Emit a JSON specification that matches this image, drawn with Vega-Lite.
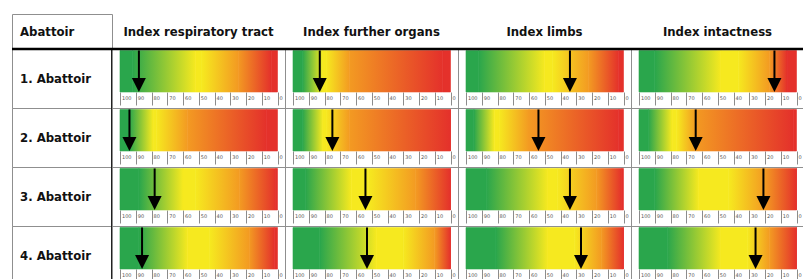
{
  "$schema": "https://vega.github.io/schema/vega-lite/v6.json",
  "padding": {"left": 10, "top": 13, "right": 0, "bottom": 0},
  "background": "white",
  "datasets": {
    "cells": [
      {"abattoir": "1. Abattoir", "index": "Index respiratory tract", "value": 88, "g": 92, "y1": 52, "y2": 48, "o": 25, "r": 4},
      {"abattoir": "1. Abattoir", "index": "Index further organs", "value": 83, "g": 94, "y1": 81, "y2": 79, "o": 64, "r": 5},
      {"abattoir": "1. Abattoir", "index": "Index limbs", "value": 34, "g": 92, "y1": 50, "y2": 45, "o": 22, "r": 3},
      {"abattoir": "1. Abattoir", "index": "Index intactness", "value": 14, "g": 90, "y1": 48, "y2": 37, "o": 17, "r": 6},
      {"abattoir": "2. Abattoir", "index": "Index respiratory tract", "value": 94, "g": 94, "y1": 79, "y2": 77, "o": 57, "r": 7},
      {"abattoir": "2. Abattoir", "index": "Index further organs", "value": 75, "g": 94, "y1": 81, "y2": 79, "o": 64, "r": 0},
      {"abattoir": "2. Abattoir", "index": "Index limbs", "value": 54, "g": 95, "y1": 82, "y2": 79, "o": 60, "r": 3},
      {"abattoir": "2. Abattoir", "index": "Index intactness", "value": 64, "g": 94, "y1": 79, "y2": 76, "o": 64, "r": 2},
      {"abattoir": "3. Abattoir", "index": "Index respiratory tract", "value": 78, "g": 88, "y1": 60, "y2": 52, "o": 24, "r": 1},
      {"abattoir": "3. Abattoir", "index": "Index further organs", "value": 54, "g": 92, "y1": 63, "y2": 52, "o": 22, "r": 0},
      {"abattoir": "3. Abattoir", "index": "Index limbs", "value": 34, "g": 87, "y1": 48, "y2": 42, "o": 17, "r": 1},
      {"abattoir": "3. Abattoir", "index": "Index intactness", "value": 21, "g": 90, "y1": 62, "y2": 43, "o": 20, "r": 0},
      {"abattoir": "4. Abattoir", "index": "Index respiratory tract", "value": 86, "g": 88, "y1": 57, "y2": 43, "o": 18, "r": 2},
      {"abattoir": "4. Abattoir", "index": "Index further organs", "value": 53, "g": 83, "y1": 47, "y2": 30, "o": 10, "r": 0},
      {"abattoir": "4. Abattoir", "index": "Index limbs", "value": 27, "g": 81, "y1": 48, "y2": 31, "o": 14, "r": 0},
      {"abattoir": "4. Abattoir", "index": "Index intactness", "value": 26, "g": 82, "y1": 48, "y2": 31, "o": 17, "r": 0}
    ]
  },
  "config": {
    "view": {"stroke": "#8f8f8f", "strokeWidth": 1},
    "axis": {"labelOverlap": false},
    "text": {"font": "'DejaVu Sans Condensed', 'Liberation Sans', sans-serif", "fontWeight": "bold", "fontSize": 13, "color": "#111111"}
  },
  "columns": 2,
  "spacing": 0,
  "align": "each",
  "bounds": "flush",
  "concat": [
    {
      "data": {"values": [{"h": "Abattoir"}]},
      "width": 100,
      "height": 35,
      "mark": {"type": "text", "align": "left", "dx": 8},
      "encoding": {
        "x": {"datum": 1, "type": "quantitative", "scale": {"domain": [1, 2], "zero": false, "nice": false}, "axis": null},
        "text": {"field": "h", "type": "nominal"}
      }
    },
    {
      "data": {"name": "cells"},
      "transform": [{"aggregate": [{"op": "count", "as": "n"}], "groupby": ["index"]}],
      "facet": {
        "column": {"field": "index", "type": "nominal", "header": null,
          "sort": ["Index respiratory tract", "Index further organs", "Index limbs", "Index intactness"]}
      },
      "spacing": 0,
      "bounds": "flush",
      "spec": {
        "width": 173,
        "height": 35,
        "mark": {"type": "text"},
        "encoding": {"text": {"field": "index", "type": "nominal"}}
      }
    },
    {
      "data": {"name": "cells"},
      "transform": [{"aggregate": [{"op": "count", "as": "n"}], "groupby": ["abattoir"]}],
      "facet": {"row": {"field": "abattoir", "type": "nominal", "header": null}},
      "spacing": 0,
      "bounds": "flush",
      "spec": {
        "width": 100,
        "height": 59,
        "layer": [
          {
            "mark": {"type": "text", "align": "left", "dx": 8},
            "encoding": {
              "x": {"datum": 1, "type": "quantitative", "scale": {"domain": [1, 2], "zero": false, "nice": false}, "axis": null},
              "text": {"field": "abattoir", "type": "nominal"}
            }
          },
          {
            "mark": {"type": "rule", "strokeWidth": 2, "color": "#222222"},
            "encoding": {"x": {"datum": 2, "type": "quantitative"}}
          },
          {
            "transform": [{"filter": {"field": "abattoir", "equal": "1. Abattoir"}}],
            "mark": {"type": "rule", "strokeWidth": 2.5, "color": "black"},
            "encoding": {"y": {"datum": 2, "type": "quantitative", "scale": {"domain": [1, 2], "zero": false, "nice": false}, "axis": null}}
          }
        ]
      }
    },
    {
      "data": {"name": "cells"},
      "facet": {
        "row": {"field": "abattoir", "type": "nominal", "header": null},
        "column": {"field": "index", "type": "nominal", "header": null,
          "sort": ["Index respiratory tract", "Index further organs", "Index limbs", "Index intactness"]}
      },
      "spacing": 0,
      "bounds": "flush",
      "resolve": {"axis": {"x": "independent"}},
      "spec": {
        "width": 173,
        "height": 59,
        "layer": [
          {
            "mark": {"type": "rect", "strokeWidth": 0.6,
              "fill": {"gradient": "linear", "x1": 0, "y1": 0, "x2": 1, "y2": 0, "stops": [{"offset": 0, "color": "#2aa64c"}, {"offset": 1, "color": "#f6e91f"}]},
              "stroke": {"gradient": "linear", "x1": 0, "y1": 0, "x2": 1, "y2": 0, "stops": [{"offset": 0, "color": "#2aa64c"}, {"offset": 1, "color": "#f6e91f"}]}},
            "encoding": {
              "x": {"field": "g", "type": "quantitative",
                "scale": {"domain": [105.08, -4.76], "nice": false, "zero": false},
                "axis": {
                  "values": [100, 90, 80, 70, 60, 50, 40, 30, 20, 10, 0],
                  "tickCount": 30,
                  "offset": -16, "domain": false, "grid": false, "title": null,
                  "tickSize": 13, "tickColor": "#6f6f6f", "tickWidth": 0.8,
                  "labelAlign": "left", "labelBaseline": "middle", "labelPadding": -8, "labelOffset": 1.5,
                  "labelFontSize": 5, "labelColor": "#555555", "labelFont": "DejaVu Sans",
                  "labelOverlap": false, "labelSeparation": 0, "labelFlush": false, "labelBound": false
                }},
              "x2": {"field": "y1"},
              "y": {"datum": 0, "type": "quantitative", "scale": {"domain": [-0.386, 1.036], "nice": false, "zero": false}, "axis": null},
              "y2": {"datum": 1}
            }
          },
          {
            "mark": {"type": "rect", "fill": "#2aa64c", "stroke": "#2aa64c", "strokeWidth": 0.6},
            "encoding": {"x": {"field": "g", "type": "quantitative"}, "x2": {"datum": 100}, "y": {"datum": 0, "type": "quantitative"}, "y2": {"datum": 1}}
          },
          {
            "mark": {"type": "rect", "fill": "#f6e91f", "stroke": "#f6e91f", "strokeWidth": 0.6},
            "encoding": {"x": {"field": "y1", "type": "quantitative"}, "x2": {"field": "y2"}, "y": {"datum": 0, "type": "quantitative"}, "y2": {"datum": 1}}
          },
          {
            "mark": {"type": "rect", "strokeWidth": 0.6,
              "fill": {"gradient": "linear", "x1": 0, "y1": 0, "x2": 1, "y2": 0, "stops": [{"offset": 0, "color": "#f6e91f"}, {"offset": 1, "color": "#f39a22"}]},
              "stroke": {"gradient": "linear", "x1": 0, "y1": 0, "x2": 1, "y2": 0, "stops": [{"offset": 0, "color": "#f6e91f"}, {"offset": 1, "color": "#f39a22"}]}},
            "encoding": {"x": {"field": "y2", "type": "quantitative"}, "x2": {"field": "o"}, "y": {"datum": 0, "type": "quantitative"}, "y2": {"datum": 1}}
          },
          {
            "mark": {"type": "rect", "strokeWidth": 0.6,
              "fill": {"gradient": "linear", "x1": 0, "y1": 0, "x2": 1, "y2": 0, "stops": [{"offset": 0, "color": "#f39a22"}, {"offset": 1, "color": "#e4312b"}]},
              "stroke": {"gradient": "linear", "x1": 0, "y1": 0, "x2": 1, "y2": 0, "stops": [{"offset": 0, "color": "#f39a22"}, {"offset": 1, "color": "#e4312b"}]}},
            "encoding": {"x": {"field": "o", "type": "quantitative"}, "x2": {"field": "r"}, "y": {"datum": 0, "type": "quantitative"}, "y2": {"datum": 1}}
          },
          {
            "mark": {"type": "rect", "fill": "#e4312b", "stroke": "#e4312b", "strokeWidth": 0.6},
            "encoding": {"x": {"field": "r", "type": "quantitative"}, "x2": {"datum": 0}, "y": {"datum": 0, "type": "quantitative"}, "y2": {"datum": 1}}
          },
          {
            "mark": {"type": "rule", "color": "black", "strokeWidth": 2},
            "encoding": {"x": {"field": "value", "type": "quantitative"}, "y": {"datum": 1, "type": "quantitative"}, "y2": {"datum": 0.2}}
          },
          {
            "mark": {"type": "point", "shape": "M-1,-1L1,-1L0,1Z", "filled": true, "color": "black", "opacity": 1, "size": 196, "strokeWidth": 0},
            "encoding": {"x": {"field": "value", "type": "quantitative"}, "y": {"datum": 0.17, "type": "quantitative"}}
          },
          {
            "transform": [{"filter": {"field": "abattoir", "equal": "1. Abattoir"}}],
            "mark": {"type": "rule", "strokeWidth": 2.5, "color": "black"},
            "encoding": {"y": {"datum": 1.036, "type": "quantitative"}}
          }
        ]
      }
    }
  ]
}
